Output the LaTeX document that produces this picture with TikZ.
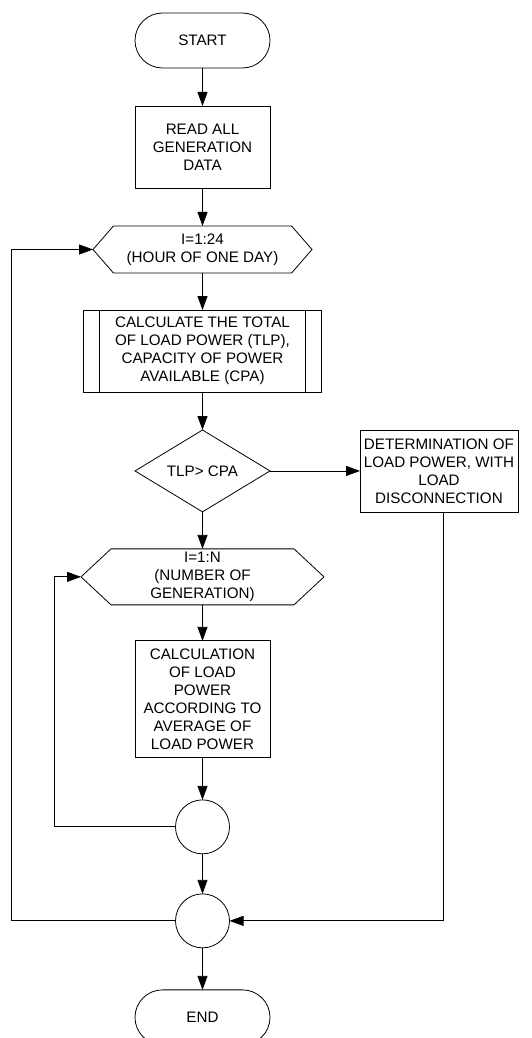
\documentclass[tikz,border=0pt]{standalone}
\usepackage{fontspec}
\setmainfont{Liberation Sans}
\usetikzlibrary{arrows.meta,positioning,shapes.geometric,shapes.misc,shapes.symbols}

\begin{document}
\begin{tikzpicture}[
    x=1pt,y=1pt,
    font={\fontsize{15.2pt}{18pt}\selectfont},
    line width=0.8pt,
    every node/.style={outer sep=0pt,inner sep=0pt,align=center},
    terminal/.style={draw,rounded rectangle,minimum width=135,minimum height=55},
    process/.style={draw,rectangle,minimum width=135,minimum height=82},
    subproc/.style={draw,rectangle,minimum width=238,minimum height=82},
    loophead/.style={draw,signal,signal to=west and east,minimum height=47,
      minimum width=219,signal pointer angle=98},
    decision/.style={draw,diamond,minimum width=135,minimum height=81},
    junction/.style={draw,circle,minimum size=54},
    flow/.style={-{Triangle[length=14pt,width=10pt]}}
  ]
    \useasboundingbox (0,0) rectangle (531,-1038);

    \node[terminal] (start) at (202.5,-40.5) {START};
    \node[process,below=38pt of start] (read) {READ ALL\\GENERATION\\DATA};
    \node[loophead,below=38pt of read] (hour) {I=1:24\\(HOUR OF ONE DAY)};
    \node[subproc,below=37pt of hour] (calc)
      {CALCULATE THE TOTAL\\OF LOAD POWER (TLP),\\CAPACITY OF POWER\\AVAILABLE (CPA)};
    \node[decision,below=38pt of calc] (test) {TLP> CPA};
    \node[process,minimum width=158,right=90pt of test] (shed)
      {DETERMINATION OF\\LOAD POWER, WITH\\LOAD\\DISCONNECTION};
    \node[loophead,minimum width=243,minimum height=56,signal pointer angle=86,
      below=37pt of test] (gen) {I=1:N\\(NUMBER OF\\GENERATION)};
    \node[process,minimum height=117,below=36pt of gen] (avg)
      {CALCULATION\\OF LOAD\\POWER\\ACCORDING TO\\AVERAGE OF\\LOAD POWER};
    \node[junction,below=42pt of avg] (j1) {};
    \node[junction,below=40pt of j1] (j2) {};
    \node[terminal,below=42pt of j2] (end) {END};

    \draw ([xshift=16pt]calc.north west) -- ([xshift=16pt]calc.south west);
    \draw ([xshift=-16pt]calc.north east) -- ([xshift=-16pt]calc.south east);

    \draw[flow] (start) -- (read);
    \draw[flow] (read) -- (hour);
    \draw[flow] (hour) -- (calc);
    \draw[flow] (calc) -- (test);
    \draw[flow] (test.east) -- (shed.west);
    \draw[flow] (test.south) -- (gen.north);
    \draw[flow] (gen) -- (avg);
    \draw[flow] (avg) -- (j1);
    \draw[flow] (j1) -- (j2);
    \draw[flow] (j2) -- (end);
    \draw[flow] (j1.west) -- ++(-121,0) |- (gen.west);
    \draw[flow] (j2.west) -- ++(-164,0) |- (hour.west);
    \draw[flow] ([xshift=4pt]shed.south) |- (j2.east);
  \end{tikzpicture}
\end{document}
